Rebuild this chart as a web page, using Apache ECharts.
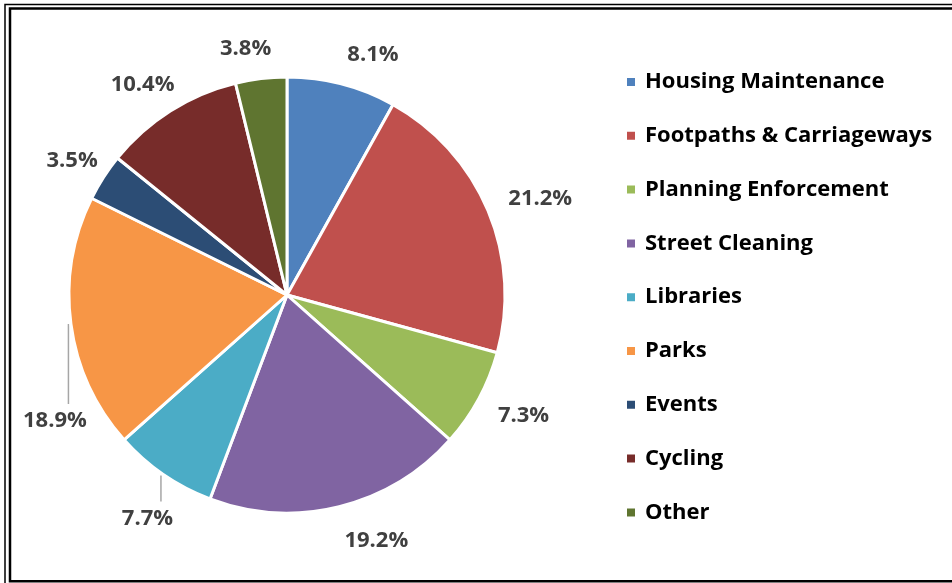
<!DOCTYPE html>
<html>
<head>
<meta charset="utf-8">
<script src="https://cdn.jsdelivr.net/npm/echarts@6/dist/echarts.min.js"></script>
<style>
  html, body { margin: 0; padding: 0; background: #fff; }
  #chart { width: 952px; height: 583px; }
</style>
</head>
<body>
<div id="chart"></div>
<script>
// share of responses per service area (%)
const categories = [
  "Housing Maintenance",
  "Footpaths & Carriageways",
  "Planning Enforcement",
  "Street Cleaning",
  "Libraries",
  "Parks",
  "Events",
  "Cycling",
  "Other",
];
const shares = [8.1, 21.2, 7.3, 19.2, 7.7, 18.9, 3.5, 10.4, 3.8];

const palette = ["#4f81bd", "#c0504d", "#9bbb59", "#8064a2", "#4bacc6", "#f79646", "#2c4d75", "#772c2a", "#5f7530"];
const FONT = "'Open Sans', 'DejaVu Sans', sans-serif";

// pie geometry (px), used to push labels off the rim like Excel does
const CX = 287, CY = 295, R = 218, GAP = 22;
// labels that Excel moved down with a vertical leader line
const leaders = {
  4: { dx: -16, dy: 44, from: 1 },
  5: { dx: -16, dy: 97, from: 0 },
};

// unit vector of each slice's mid angle (clockwise from 12 o'clock)
const total = shares.reduce((a, b) => a + b, 0);
let acc = 0;
const midDir = shares.map((v) => {
  const a = ((acc + v / 2) / total) * 2 * Math.PI;
  acc += v;
  return [Math.sin(a), -Math.cos(a)];
});

const chart = echarts.init(document.getElementById("chart"), null, { renderer: "canvas" });

function placeLabel(p) {
  const r = p.labelRect;
  const [ux, uy] = midDir[p.dataIndex];
  const ld = leaders[p.dataIndex];
  if (ld) {
    const ex = CX + R * ux, ey = CY + R * uy;
    const lx = ex + ld.dx, ly = ey + ld.dy;
    const top = ly - r.height / 2;
    const x = ex - 2.5;
    return {
      x: lx, y: ly, align: "center", verticalAlign: "middle",
      labelLinePoints: [[x, ey + ld.from], [x, (ey + ld.from + top - 6) / 2], [x, top - 6]],
    };
  }
  const hw = r.width / 2, hh = r.height * (uy > 0 ? 0.6 : 0.38);
  const f = ux > 0 ? 1 : 0.5;
  return {
    x: CX + (R + GAP) * ux + hw * f * Math.sign(ux),
    y: CY + (R + GAP) * uy + hh * uy,
    align: "center",
    verticalAlign: "middle",
  };
}

const option = {
  backgroundColor: "#fff",
  animation: false,
  color: palette,
  graphic: [
    { type: "rect", shape: { x: 5, y: 4.5, width: 1200, height: 1200 }, style: { fill: null, stroke: "#000", lineWidth: 1.5 }, silent: true },
    { type: "rect", shape: { x: 10, y: 8.5, width: 1200, height: 572.8 }, style: { fill: null, stroke: "#000", lineWidth: 2.5 }, silent: true },
  ],
  legend: {
    orient: "vertical",
    left: 620,
    top: 66,
    itemWidth: 10,
    itemHeight: 10,
    itemGap: 31.8,
    icon: "rect",
    selectedMode: false,
    textStyle: { fontFamily: FONT, fontWeight: "bold", fontSize: 22, color: "#000", lineHeight: 22, padding: [0, 0, 0, 4] },
    data: categories,
  },
  series: [
    {
      type: "pie",
      center: [CX, CY],
      radius: R,
      startAngle: 90,
      clockwise: true,
      avoidLabelOverlap: false,
      itemStyle: { borderColor: "#fff", borderWidth: 3 },
      label: {
        show: true,
        position: "outside",
        formatter: (p) => p.value.toFixed(1) + "%",
        fontFamily: FONT,
        fontWeight: "bold",
        fontSize: 22,
        color: "#404040",
        distanceToLabelLine: 0,
      },
      labelLine: { show: false, length: 30, length2: 0, lineStyle: { color: "#a6a6a6", width: 1.5 } },
      labelLayout: placeLabel,
      emphasis: { disabled: true },
      data: categories.map((name, i) => ({
        name,
        value: shares[i],
        labelLine: leaders[i] ? { show: true } : undefined,
      })),
    },
  ],
};

chart.setOption(option);
</script>
</body>
</html>
